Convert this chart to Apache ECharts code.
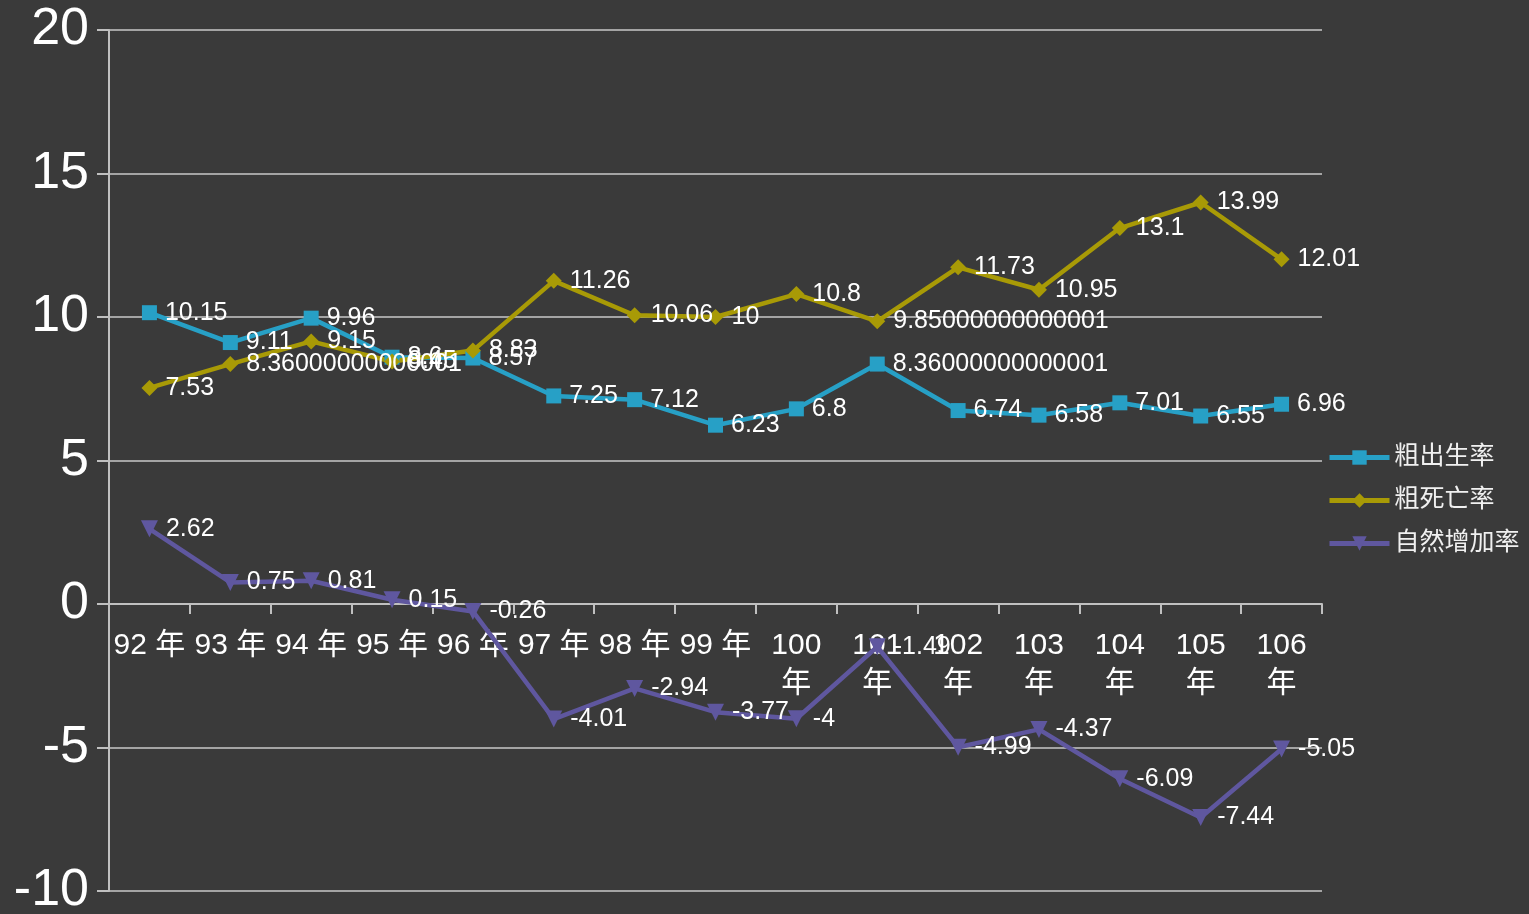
<!DOCTYPE html>
<html>
<head>
<meta charset="utf-8">
<script src="https://cdn.jsdelivr.net/npm/echarts@6/dist/echarts.min.js"></script>
<style>
html,body{margin:0;padding:0;background:#3a3a3a;}
#main{width:1529px;height:914px;}
</style>
</head>
<body>
<div id="main"></div>
<script>
const categories = ['92 年','93 年','94 年','95 年','96 年','97 年','98 年','99 年','100 年','101 年','102 年','103 年','104 年','105 年','106 年'];
const birthRate = [10.15, 9.11, 9.96, 8.6, 8.57, 7.25, 7.12, 6.23, 6.8, 8.36000000000001, 6.74, 6.58, 7.01, 6.55, 6.96];
const deathRate = [7.53, 8.36000000000001, 9.15, 8.45, 8.83, 11.26, 10.06, 10, 10.8, 9.85000000000001, 11.73, 10.95, 13.1, 13.99, 12.01];
const naturalRate = [2.62, 0.75, 0.81, 0.15, -0.26, -4.01, -2.94, -3.77, -4, -1.49, -4.99, -4.37, -6.09, -7.44, -5.05];
const seriesNames = ['粗出生率','粗死亡率','自然增加率'];
const yTicks = [-10, -5, 0, 5, 10, 15, 20];

const FONT = "'Liberation Sans', Arial, 'Noto Sans CJK TC', sans-serif";
const chart = echarts.init(document.getElementById('main'));
const GRID_TOP = 30, GRID_BOTTOM = 23, H = 914;
const plotH = H - GRID_TOP - GRID_BOTTOM;
const yMin = yTicks[0], yMax = yTicks[yTicks.length-1];
// move the category axis up to the zero line
const zeroOffset = -plotH * (0 - yMin) / (yMax - yMin);

const labelStyle = {show:true, position:'right', distance:8, color:'#ffffff', fontSize:25, fontFamily:FONT};
function mk(name, data, color, symbol, size, rotate){
  return {name, type:'line', data, color, symbol, symbolSize:size, symbolRotate:rotate||0,
    lineStyle:{width:4.5, color}, itemStyle:{color}, label:labelStyle, animation:false, z: 3};
}
chart.setOption({
  backgroundColor:'#3a3a3a',
  textStyle:{fontFamily:FONT},
  grid:{left:109, right:207, top:GRID_TOP, bottom:GRID_BOTTOM, containLabel:false, outerBoundsMode:'none'},
  legend:{
    orient:'vertical', left:1322, top:440, itemWidth:60, itemHeight:18, itemGap:18,
    textStyle:{color:'#f0f0f0', fontSize:25, fontFamily:FONT},
    lineStyle:{width:5},
    data:seriesNames
  },
  xAxis:{
    type:'category', data:categories, boundaryGap:true, position:'bottom', offset:zeroOffset,
    axisLine:{onZero:false, lineStyle:{color:'#c0c0c0', width:2}},
    axisTick:{show:true, length:10, lineStyle:{color:'#c0c0c0', width:2}},
    axisLabel:{color:'#ffffff', fontSize:30, fontFamily:FONT, margin:23, interval:0, lineHeight:38,
      formatter:v => v.length > 4 ? v.replace(' ', '\n') : v}
  },
  yAxis:{
    type:'value', min:yMin, max:yMax, interval:5,
    axisLine:{show:true, lineStyle:{color:'#c0c0c0', width:2}},
    axisTick:{show:true, length:12, lineStyle:{color:'#c0c0c0', width:2}},
    axisLabel:{color:'#ffffff', fontSize:52, fontFamily:FONT, margin:20},
    splitLine:{show:true, lineStyle:{color:'#c8c8c8', width:1.5}}
  },
  series:[
    mk(seriesNames[0], birthRate, '#27a0c6', 'rect', 15),
    mk(seriesNames[1], deathRate, '#a89a06', 'diamond', 16),
    mk(seriesNames[2], naturalRate, '#5f579f', 'triangle', 17, 180)
  ]
});
</script>
</body>
</html>
